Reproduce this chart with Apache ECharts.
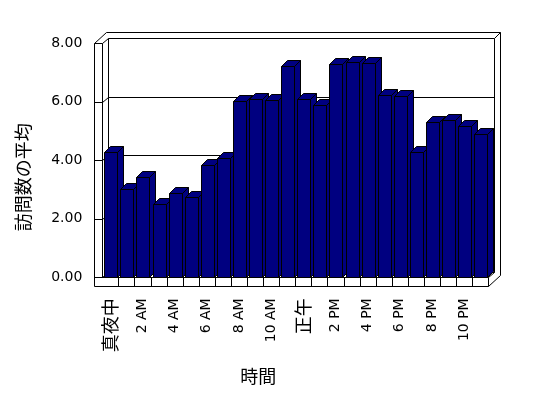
<!DOCTYPE html>
<html><head><meta charset="utf-8">
<script src="https://cdn.jsdelivr.net/npm/echarts@6/dist/echarts.min.js"></script>
<style>html,body{margin:0;padding:0;background:#fff}#c{width:548px;height:398px}</style>
</head><body><div id="c"></div>
<script>
const categories = ['真夜中','1 AM','2 AM','3 AM','4 AM','5 AM','6 AM','7 AM','8 AM','9 AM','10 AM','11 AM',
  '正午','1 PM','2 PM','3 PM','4 PM','5 PM','6 PM','7 PM','8 PM','9 PM','10 PM','11 PM'];
const values = [4.27, 3.01, 3.42, 2.51, 2.87, 2.74, 3.83, 4.07, 6.03, 6.09, 6.05, 7.21,
  6.10, 5.88, 7.29, 7.37, 7.32, 6.22, 6.19, 4.27, 5.30, 5.38, 5.16, 4.91];
const yTicks = [0, 2, 4, 6, 8];
const yName = '訪問数の平均';
const xName = '時間';

const yMin = yTicks[0], yMax = yTicks[yTicks.length - 1], yStep = yTicks[1] - yTicks[0];
const FONT = "'DejaVu Sans','Noto Sans CJK JP',sans-serif";
const CJK = "'Noto Sans CJK JP',sans-serif";
// 3D look: depth offsets (pixels)
const DX = 6, DY = -5, WX = 6, WY = -6, LW = 8, FH = 9, BDX = 6, BDY = -6;
const px = v => Math.round(v) + 0.5;

function renderFrame(params, api) {
  const band = api.size([1, 0])[0];
  const xl = api.coord([0, yMin])[0] - band / 2;
  const xr = api.coord([categories.length - 1, yMin])[0] + band / 2;
  const yb = api.coord([0, yMin])[1];
  const yt = api.coord([0, yMax])[1];
  const kids = [];
  const L = (x1, y1, x2, y2) => kids.push({type: 'line',
    shape: {x1: px(x1), y1: px(y1), x2: px(x2), y2: px(y2)},
    style: {stroke: '#000', lineWidth: 1}});
  // left wall
  L(xl - LW, yt, xl - LW, yb + FH);
  L(xl, yt, xl, yb);
  L(xl + DX, yt + DY, xl + DX, yb + DY);
  L(xl - LW, yt, xl - LW + DX + WX, yt + DY + WY);
  L(xl, yt, xl + DX, yt + DY);
  yTicks.forEach(v => {
    const y = api.coord([0, v])[1];
    L(xl - LW, y, xl, y);
    if (v > yMin && v < yMax) {
      L(xl, y, xl + DX, y + DY);
      L(xl + DX, y + DY, xr + DX, y + DY);
    }
  });
  // back wall
  L(xl - LW + DX + WX, yt + DY + WY, xr + DX + WX, yt + DY + WY);
  L(xl + DX, yt + DY, xr + DX, yt + DY);
  L(xr + DX, yt + DY, xr + DX + WX, yt + DY + WY);
  L(xr + DX, yt + DY, xr + DX, yb + DY);
  L(xr + DX + WX, yt + DY + WY, xr + DX + WX, yb + DY + WY + FH);
  // floor
  L(xl, yb, xl + DX, yb + DY);
  L(xl + DX, yb + DY, xr + DX, yb + DY);
  L(xl - LW, yb, xr, yb);
  L(xl - LW, yb + FH, xr, yb + FH);
  L(xr, yb, xr, yb + FH);
  L(xr, yb, xr + DX, yb + DY);
  L(xr, yb + FH, xr + DX + WX, yb + FH + DY + WY);
  for (let k = 1; k < categories.length; k++) {
    const x = xl + k * band;
    L(x, yb, x, yb + FH);
  }
  return {type: 'group', children: kids};
}

function renderBar(params, api) {
  const i = api.value(0), v = api.value(1);
  const band = api.size([1, 0])[0];
  const c = api.coord([i, v]);
  const b = api.coord([i, yMin]);
  const x0 = px(c[0] - band / 2 + band * 0.125);
  const w = Math.round(band * 0.81);
  const x1 = x0 + w;
  const yT = px(c[1]), yB = px(b[1]);
  const style = {fill: '#000080', stroke: '#000', lineWidth: 1};
  return {type: 'group', children: [
    {type: 'polygon', shape: {points: [[x1, yB], [x1 + BDX, yB + BDY], [x1 + BDX, yT + BDY], [x1, yT]]}, style},
    {type: 'polygon', shape: {points: [[x0, yT], [x0 + BDX, yT + BDY], [x1 + BDX, yT + BDY], [x1, yT]]}, style},
    {type: 'rect', shape: {x: x0, y: yT, width: w, height: yB - yT}, style}
  ]};
}

const chart = echarts.init(document.getElementById('c'), null, {renderer: 'canvas'});
chart.setOption({
  animation: false,
  backgroundColor: '#fff',
  textStyle: {fontFamily: FONT, color: '#000'},
  grid: {left: 102.3, right: 59.7, top: 43.3, bottom: 120.7, containLabel: false, outerBoundsMode: 'none'},
  xAxis: {
    type: 'category', data: categories, boundaryGap: true,
    axisLine: {show: false}, axisTick: {show: false}, splitLine: {show: false},
    axisLabel: {
      rotate: 90, interval: 1, margin: 21, fontSize: 14, color: '#000', fontFamily: FONT,
      formatter: v => /[^\x00-\x7f]/.test(v) ? '{c|' + v + '}' : v,
      rich: {c: {fontSize: 18, fontFamily: CJK, color: '#000'}}
    },
    name: xName, nameLocation: 'middle', nameGap: 90,
    nameTextStyle: {fontSize: 18, fontFamily: CJK, color: '#000', padding: [0, 74, 0, 0]}
  },
  yAxis: {
    type: 'value', min: yMin, max: yMax, interval: yStep, offset: LW,
    axisLine: {show: false}, axisTick: {show: false}, splitLine: {show: false},
    axisLabel: {formatter: v => v.toFixed(2), margin: 12, fontSize: 14, color: '#000', fontFamily: FONT},
    name: yName, nameLocation: 'middle', nameGap: 62,
    nameTextStyle: {fontSize: 18, fontFamily: CJK, color: '#000', padding: [0, 34, 0, 0]}
  },
  series: [
    {type: 'custom', z: 1, silent: true, renderItem: renderFrame, data: [[0, yMin]], encode: {x: 0, y: 1}},
    {type: 'custom', z: 2, renderItem: renderBar, data: values.map((v, i) => [i, v]), encode: {x: 0, y: 1}}
  ]
});
</script></body></html>
